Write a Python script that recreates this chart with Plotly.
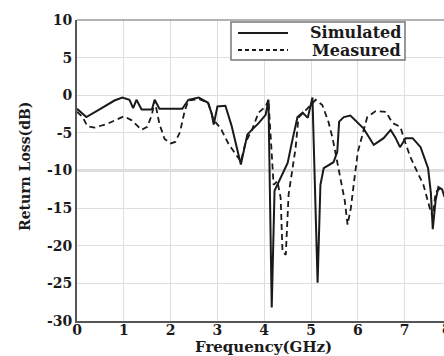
import plotly.graph_objects as go

sim_f = [0, 0.2, 0.5, 0.8, 0.97, 1.12, 1.2, 1.27, 1.38, 1.6, 1.66, 1.76, 2.0, 2.25, 2.38, 2.6, 2.8, 2.88, 2.92,
         3.0, 3.17, 3.3, 3.5, 3.64, 3.88, 4.03, 4.09, 4.16, 4.22, 4.35, 4.5, 4.6, 4.71, 4.82, 4.93, 5.03, 5.14,
         5.2, 5.27, 5.48, 5.56, 5.6, 5.7, 5.84, 6.12, 6.34, 6.55, 6.7, 6.8, 6.9, 7.02, 7.17, 7.34, 7.5, 7.56,
         7.6, 7.66, 7.72, 7.8, 7.85]
sim_db = [-1.8, -2.9, -1.8, -0.7, -0.3, -0.6, -1.7, -0.6, -1.9, -1.9, -0.6, -1.8, -1.8, -1.8, -0.6, -0.3, -1.0,
          -2.5, -3.9, -1.5, -1.4, -4.0, -9.2, -5.2, -3.7, -2.6, -0.6, -28.2, -12.7, -11.0, -9.0, -6.0, -2.9,
          -2.3, -3.0, -0.3, -24.9, -11.9, -9.7, -8.9, -7.5, -3.5, -2.9, -2.7, -4.4, -6.6, -5.7, -4.6, -5.6,
          -6.9, -5.7, -5.7, -6.9, -9.7, -13.0, -17.8, -14.0, -12.2, -12.5, -13.5]

mea_f = [0, 0.12, 0.22, 0.37, 0.65, 1.0, 1.16, 1.38, 1.5, 1.6, 1.66, 1.76, 1.87, 2.0, 2.1, 2.2, 2.3, 2.38, 2.6,
         2.8, 2.92, 3.07, 3.24, 3.38, 3.5, 3.6, 3.75, 3.88, 4.03, 4.09, 4.2, 4.28, 4.35, 4.39, 4.46, 4.52, 4.6,
         4.67, 4.73, 4.99, 5.1, 5.24, 5.37, 5.46, 5.56, 5.67, 5.72, 5.78, 5.85, 5.91, 6.0, 6.1, 6.2, 6.38, 6.6,
         6.74, 6.91, 6.98, 7.12, 7.27, 7.4, 7.55, 7.6, 7.66, 7.77, 7.85]
mea_db = [-2.2, -2.9, -4.1, -4.3, -3.8, -2.8, -3.3, -4.6, -4.2, -2.6, -0.7, -3.8, -5.8, -6.4, -6.2, -4.9, -2.1,
          -0.7, -0.5, -1.0, -3.3, -4.4, -6.5, -7.8, -8.8, -6.3, -4.4, -2.3, -1.5, -0.6, -11.9, -11.4, -13.6,
          -20.8, -21.2, -13.2, -9.7, -7.0, -3.0, -1.3, -0.6, -1.3, -3.5, -5.7, -8.9, -11.9, -14.0, -17.2, -15.0,
          -11.9, -7.5, -5.2, -2.9, -2.1, -2.2, -3.7, -4.2, -5.7, -8.2, -10.2, -11.9, -15.3, -16.2, -12.9, -12.3,
          -12.5]

x_ticks = [0, 1, 2, 3, 4, 5, 6, 7]
y_ticks = [10, 5, 0, -5, -10, -15, -20, -25, -30]
y_ticktext = ["10", "5", "0", "-5", "-10", "-15", "-20", "-25", "-30"]
series_names = ["Simulated", "Measured"]

FONT = "DejaVu Serif"
INK = "#1a1a1a"

# plot area in pixels: left 77, right 444, top 20, bottom 321
def px(xp):
    return (xp - 77) / 367.0

def py(yp):
    return (321 - yp) / 301.0

fig = go.Figure()
fig.add_trace(go.Scatter(x=sim_f, y=sim_db, mode="lines", name=series_names[0],
                         line=dict(color=INK, width=2), showlegend=False))
fig.add_trace(go.Scatter(x=mea_f, y=mea_db, mode="lines", name=series_names[1],
                         line=dict(color=INK, width=1.8, dash="6px,4px"), showlegend=False))

fig.add_shape(type="line", xref="paper", x0=0, x1=1, yref="y", y0=-10, y1=-10,
              line=dict(color="#7a7a7a", width=1.5), layer="below")
fig.add_shape(type="line", xref="paper", x0=0, x1=1, yref="paper", y0=1, y1=1,
              line=dict(color="#9a9a9a", width=1.5))

fig.update_layout(
    width=444, height=356,
    margin=dict(l=77, r=0, t=20, b=35),
    paper_bgcolor="white", plot_bgcolor="white",
    font=dict(family=FONT, color=INK),
    showlegend=False,
    xaxis=dict(range=[0, 7.84], tickvals=x_ticks, showgrid=True, gridcolor="#dedede", gridwidth=1,
               zeroline=False, showline=True, linecolor="#555555", linewidth=2,
               ticks="", ticklabelstandoff=-5,
               tickfont=dict(family=FONT, size=14, color=INK, weight="bold")),
    yaxis=dict(range=[-30, 10], tickvals=y_ticks, ticktext=y_ticktext, showgrid=True, gridcolor="#dedede",
               gridwidth=1, zeroline=False, showline=True, linecolor="#555555", linewidth=2,
               ticks="", tickfont=dict(family=FONT, size=14, color=INK, weight="bold")),
)

# legend drawn manually
fig.add_shape(type="rect", xref="paper", yref="paper", x0=px(231), x1=px(405), y0=py(60), y1=py(22),
              line=dict(color="#777777", width=1.5), fillcolor="white", layer="above")
fig.add_shape(type="line", xref="paper", yref="paper", x0=px(238), x1=px(288), y0=py(33), y1=py(33),
              line=dict(color=INK, width=2))
fig.add_shape(type="line", xref="paper", yref="paper", x0=px(238), x1=px(288), y0=py(50), y1=py(50),
              line=dict(color=INK, width=1.8, dash="4px,3px"))
for name, yy in zip(series_names, [33, 50]):
    fig.add_annotation(text="<b>" + name + "</b>", xref="paper", yref="paper", x=px(403), y=py(yy),
                       xanchor="right", yanchor="middle", showarrow=False,
                       font=dict(family=FONT, size=16, color=INK))

fig.add_annotation(text="<b>Frequency(GHz)</b>", xref="paper", yref="paper", x=px(263), y=py(347),
                   xanchor="center", yanchor="middle", showarrow=False,
                   font=dict(family=FONT, size=15, color=INK))
fig.add_annotation(text="<b>Return Loss(dB)</b>", xref="paper", yref="paper", x=px(25), y=py(166),
                   xanchor="center", yanchor="middle", textangle=-90, showarrow=False,
                   font=dict(family=FONT, size=14, color=INK))
fig.add_annotation(text="<b>8</b>", xref="paper", yref="paper", x=px(440), y=py(329),
                   xanchor="left", yanchor="middle", showarrow=False,
                   font=dict(family=FONT, size=14, color=INK))

fig.write_html("out.html")
